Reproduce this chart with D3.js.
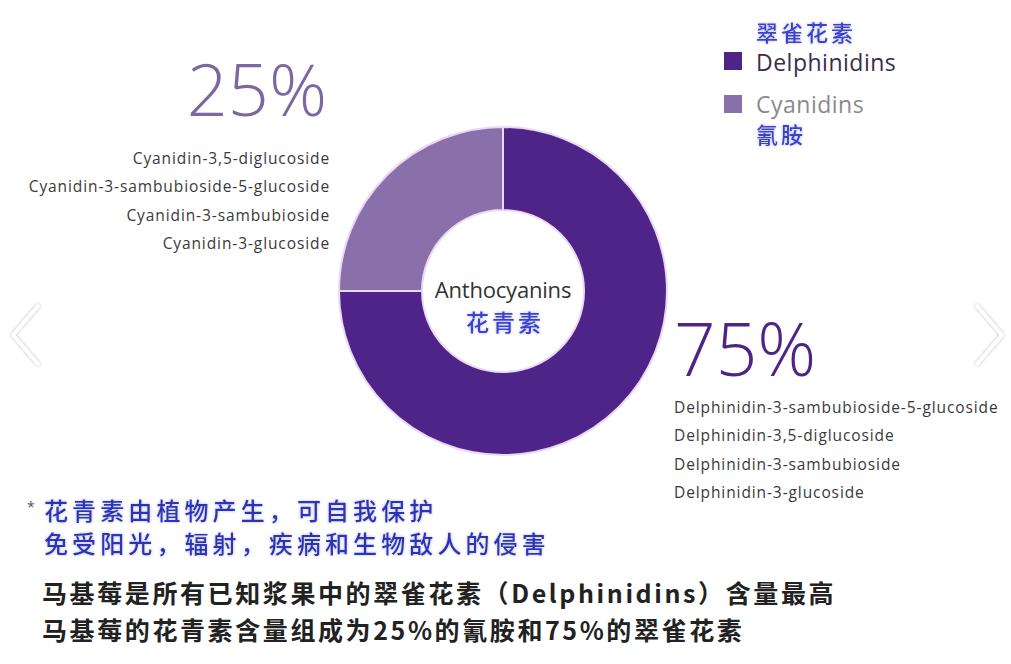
<!DOCTYPE html>
<html>
<head>
<meta charset="utf-8">
<script src="https://cdn.jsdelivr.net/npm/d3@7"></script>
<style>
html,body{margin:0;padding:0;background:#fff;}
svg{display:block;}
</style>
</head>
<body>
<svg id="chart" width="1011" height="664"></svg>
<script>
// ---- data ----
const categories = ["Delphinidins", "Cyanidins"];
const categoriesZh = ["翠雀花素", "氰胺"];
const values = [75, 25];
const percentLabels = ["75%", "25%"];
const delphinidinList = [
  "Delphinidin-3-sambubioside-5-glucoside",
  "Delphinidin-3,5-diglucoside",
  "Delphinidin-3-sambubioside",
  "Delphinidin-3-glucoside"
];
const cyanidinList = [
  "Cyanidin-3,5-diglucoside",
  "Cyanidin-3-sambubioside-5-glucoside",
  "Cyanidin-3-sambubioside",
  "Cyanidin-3-glucoside"
];
const centerTitle = ["Anthocyanins", "花青素"];
const noteLines = ["花青素由植物产生，可自我保护", "免受阳光，辐射，疾病和生物敌人的侵害"];
const footerLines = ["马基莓是所有已知浆果中的翠雀花素（Delphinidins）含量最高",
                     "马基莓的花青素含量组成为25%的氰胺和75%的翠雀花素"];

// ---- styling ----
const colors = d3.scaleOrdinal().domain(categories).range(["#4e2489", "#8a70aa"]);
const svg = d3.select("#chart");
const cx = 503, cy = 291, rOuter = 164, rInner = 81;
const latin = "'Open Sans', 'Noto Sans', sans-serif";
const cjk = "'Noto Sans CJK SC', sans-serif";

const defs = svg.append("defs");
const glow = defs.append("filter").attr("id", "glow").attr("x", "-10%").attr("y", "-30%").attr("width", "120%").attr("height", "160%");
glow.append("feGaussianBlur").attr("in", "SourceAlpha").attr("stdDeviation", 1.6).attr("result", "b");
glow.append("feFlood").attr("flood-color", "#9aa8d8").attr("flood-opacity", 0.8);
glow.append("feComposite").attr("in2", "b").attr("operator", "in").attr("result", "g");
const m = glow.append("feMerge");
m.append("feMergeNode").attr("in", "g");
m.append("feMergeNode").attr("in", "SourceGraphic");

const shadow = defs.append("filter").attr("id", "shadow").attr("x", "-50%").attr("y", "-20%").attr("width", "200%").attr("height", "140%");
shadow.append("feDropShadow").attr("dx", 0).attr("dy", 0).attr("stdDeviation", 1.5).attr("flood-color", "#000").attr("flood-opacity", 0.35);

// ---- donut ----
const pie = d3.pie().sort(null).value(d => d.v).startAngle(0).endAngle(2 * Math.PI);
const arc = d3.arc().innerRadius(rInner).outerRadius(rOuter);
const data = categories.map((c, i) => ({c, v: values[i]}));
const g = svg.append("g").attr("transform", `translate(${cx},${cy})`);
g.selectAll("path").data(pie(data)).join("path")
  .attr("d", arc)
  .attr("fill", d => colors(d.data.c))
  .attr("stroke", "#ecd8f4").attr("stroke-width", 2);

// center text
g.append("text").attr("x", 0).attr("y", 7).attr("text-anchor", "middle")
  .attr("font-family", latin).attr("font-size", 22).attr("letter-spacing", -0.2).attr("fill", "#333")
  .text(centerTitle[0]);
g.append("text").attr("x", 2).attr("y", 40).attr("text-anchor", "middle")
  .attr("font-family", cjk).attr("font-size", 23).attr("letter-spacing", 3).attr("font-weight", 500)
  .attr("fill", "#3b40d0").attr("filter", "url(#glow)")
  .text(centerTitle[1]);

// ---- percentages ----
svg.append("text").attr("x", 327).attr("y", 116).attr("text-anchor", "end")
  .attr("font-family", latin).attr("font-weight", 300).attr("font-size", 72)
  .attr("fill", "#7b67a1").text(percentLabels[1]);
svg.append("text").attr("x", 674).attr("y", 376).attr("text-anchor", "start")
  .attr("font-family", latin).attr("font-weight", 300).attr("font-size", 73)
  .attr("fill", "#4e2489").text(percentLabels[0]);

// ---- compound lists ----
svg.append("g").selectAll("text").data(cyanidinList).join("text")
  .attr("x", 330).attr("y", (d, i) => 164 + i * 28.3)
  .attr("text-anchor", "end").attr("font-family", latin).attr("font-size", 15.5)
  .attr("letter-spacing", 0.9).attr("fill", "#3a3a3a").text(d => d);
svg.append("g").selectAll("text").data(delphinidinList).join("text")
  .attr("x", 674).attr("y", (d, i) => 413 + i * 28.3)
  .attr("text-anchor", "start").attr("font-family", latin).attr("font-size", 15.5)
  .attr("letter-spacing", 0.9).attr("fill", "#3a3a3a").text(d => d);

// ---- legend ----
const leg = svg.append("g");
leg.append("text").attr("x", 756).attr("y", 41).attr("font-family", cjk)
  .attr("font-size", 22).attr("letter-spacing", 3).attr("font-weight", 500)
  .attr("fill", "#3b40d0").attr("filter", "url(#glow)").text(categoriesZh[0]);
leg.selectAll("rect").data(categories).join("rect")
  .attr("x", 724).attr("y", (d, i) => 52 + i * 43).attr("width", 18).attr("height", 18)
  .attr("fill", d => colors(d));
leg.selectAll("text.lab").data(categories).join("text").attr("class", "lab")
  .attr("x", 756).attr("y", (d, i) => 71 + i * 42)
  .attr("font-family", latin).attr("font-size", 23).attr("letter-spacing", 0.5)
  .attr("fill", (d, i) => i === 0 ? "#3a2d4a" : "#8a8a8a").text(d => d);
leg.append("text").attr("x", 756).attr("y", 143).attr("font-family", cjk)
  .attr("font-size", 22).attr("letter-spacing", 3).attr("font-weight", 500)
  .attr("fill", "#3b40d0").attr("filter", "url(#glow)").text(categoriesZh[1]);

// ---- note ----
svg.append("text").attr("x", 27).attr("y", 512).attr("font-family", latin)
  .attr("font-size", 14).attr("fill", "#555").text("*");
svg.append("g").selectAll("text").data(noteLines).join("text")
  .attr("x", 44).attr("y", (d, i) => 520 + i * 33)
  .attr("font-family", cjk).attr("font-size", 24).attr("letter-spacing", 4.1).attr("font-weight", 500)
  .attr("fill", "#2f32b8").attr("filter", "url(#glow)").text(d => d);

// ---- footer ----
svg.append("g").selectAll("text").data(footerLines).join("text")
  .attr("x", 42).attr("y", (d, i) => 603 + i * 37)
  .attr("font-family", cjk).attr("font-size", 25).attr("letter-spacing", 2.6).attr("font-weight", 700)
  .attr("fill", "#222").text(d => d);

// ---- nav chevrons ----
const chev = svg.append("g").attr("fill", "none").attr("stroke", "#fff")
  .attr("stroke-width", 3.5).attr("stroke-linecap", "round").attr("stroke-linejoin", "round")
  .attr("filter", "url(#shadow)");
chev.append("path").attr("d", "M38,306 L13,335 L38,364");
chev.append("path").attr("d", "M977,306 L1002,335 L977,364");
</script>
</body>
</html>
